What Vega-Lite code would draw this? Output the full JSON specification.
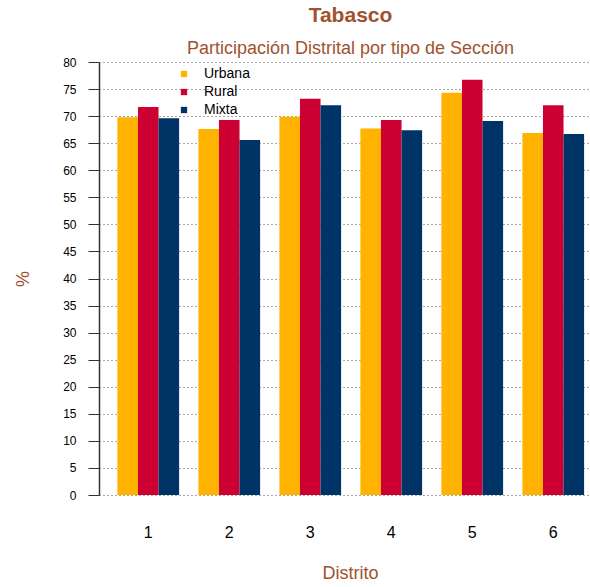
{
  "$schema": "https://vega.github.io/schema/vega-lite/v6.json",
  "width": 491,
  "height": 433,
  "autosize": "none",
  "padding": {"left": 99, "top": 62, "right": 0, "bottom": 92},
  "background": "white",
  "title": {
    "text": "Tabasco",
    "subtitle": "Participación Distrital por tipo de Sección",
    "anchor": "middle",
    "dx": 6,
    "color": "#A0522D",
    "subtitleColor": "#A0522D",
    "font": "Liberation Sans",
    "subtitleFont": "Liberation Sans",
    "fontSize": 21,
    "fontWeight": "bold",
    "subtitleFontSize": 18,
    "subtitlePadding": 14,
    "offset": -2
  },
  "data": {
    "values": [
      {"distrito": "1", "tipo": "Urbana", "pct": 69.8},
      {"distrito": "1", "tipo": "Rural", "pct": 71.7},
      {"distrito": "1", "tipo": "Mixta", "pct": 69.6},
      {"distrito": "2", "tipo": "Urbana", "pct": 67.6},
      {"distrito": "2", "tipo": "Rural", "pct": 69.3},
      {"distrito": "2", "tipo": "Mixta", "pct": 65.6},
      {"distrito": "3", "tipo": "Urbana", "pct": 69.9},
      {"distrito": "3", "tipo": "Rural", "pct": 73.2},
      {"distrito": "3", "tipo": "Mixta", "pct": 72.0},
      {"distrito": "4", "tipo": "Urbana", "pct": 67.7},
      {"distrito": "4", "tipo": "Rural", "pct": 69.3},
      {"distrito": "4", "tipo": "Mixta", "pct": 67.4},
      {"distrito": "5", "tipo": "Urbana", "pct": 74.3},
      {"distrito": "5", "tipo": "Rural", "pct": 76.7},
      {"distrito": "5", "tipo": "Mixta", "pct": 69.1},
      {"distrito": "6", "tipo": "Urbana", "pct": 66.9},
      {"distrito": "6", "tipo": "Rural", "pct": 72.0},
      {"distrito": "6", "tipo": "Mixta", "pct": 66.7}
    ]
  },
  "mark": {"type": "bar"},
  "encoding": {
    "x": {
      "field": "distrito",
      "type": "nominal",
      "scale": {"paddingInner": 0.238, "paddingOuter": 0.15, "align": 0.757},
      "axis": {
        "title": "Distrito",
        "labelAngle": 0,
        "domain": false,
        "ticks": false,
        "grid": false,
        "labelFont": "Liberation Sans",
        "labelFontSize": 16,
        "labelColor": "#000000",
        "labelPadding": 29,
        "titleFont": "Liberation Sans",
        "titleFontSize": 18,
        "titleFontWeight": "normal",
        "titleColor": "#A0522D",
        "titlePadding": 24,
        "titleX": 251
      }
    },
    "xOffset": {
      "field": "tipo",
      "type": "nominal",
      "sort": ["Urbana", "Rural", "Mixta"],
      "scale": {"paddingInner": 0, "paddingOuter": 0}
    },
    "y": {
      "field": "pct",
      "type": "quantitative",
      "scale": {"domain": [0, 80], "nice": false},
      "axis": {
        "title": "%",
        "values": [0,5,10,15,20,25,30,35,40,45,50,55,60,65,70,75,80],
        "domainColor": "#333333",
        "tickColor": "#333333",
        "tickSize": 11,
        "labelPadding": 12,
        "labelFont": "Liberation Sans",
        "labelFontSize": 12,
        "labelColor": "#000000",
        "grid": true,
        "gridColor": "#555555",
        "gridDash": [1, 3],
        "gridWidth": 1,
        "titleFont": "Liberation Sans",
        "titleFontSize": 18,
        "titleFontWeight": "normal",
        "titleColor": "#A0522D",
        "titlePadding": 30
      }
    },
    "color": {
      "field": "tipo",
      "type": "nominal",
      "sort": ["Urbana", "Rural", "Mixta"],
      "scale": {"domain": ["Urbana", "Rural", "Mixta"], "range": ["#FFB300", "#CC0033", "#003366"]},
      "legend": {
        "title": null,
        "orient": "none",
        "legendX": 78,
        "legendY": 5,
        "symbolType": "square",
        "symbolSize": 40,
        "symbolStrokeWidth": 0,
        "labelFont": "Liberation Sans",
        "labelFontSize": 14,
        "labelColor": "#000000",
        "labelOffset": 13,
        "rowPadding": 4
      }
    }
  },
  "config": {
    "view": {"stroke": null},
    "axis": {"domainWidth": 1.5}
  }
}
